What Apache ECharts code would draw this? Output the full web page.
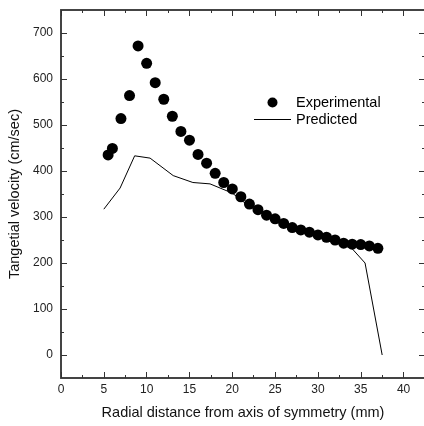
<!DOCTYPE html>
<html>
<head>
<meta charset="utf-8">
<script src="https://cdn.jsdelivr.net/npm/echarts@6/dist/echarts.min.js"></script>
<style>html,body{margin:0;padding:0;background:#fff;}#c{width:424px;height:426px;}</style>
</head>
<body>
<div id="c"></div>
<script>
var expX = [5.5, 6, 7, 8, 9, 10, 11, 12, 13, 14, 15, 16, 17, 18, 19, 20, 21, 22, 23, 24, 25, 26, 27, 28, 29, 30, 31, 32, 33, 34, 35, 36, 37];
var expY = [435, 449, 514, 564, 672, 634, 592, 556, 519, 486, 467, 436, 417, 395, 375, 361, 344, 328, 316, 304, 296, 286, 277, 272, 267, 261, 256, 250, 243, 241, 240, 237, 232];
var predX = [5, 6.9, 8.6, 10.4, 13.1, 15.4, 17.4, 20, 22, 25, 28, 31, 34, 35.5, 37.5];
var predY = [317, 363, 433, 428, 390, 375, 372, 352, 323, 292, 268, 252, 231, 200, 0];
var yMajor = [0, 100, 200, 300, 400, 500, 600, 700];
var yMinor = [50, 150, 250, 350, 450, 550, 650];

var font = 'Liberation Sans, Arial, sans-serif';
var axisLineStyle = {color: '#444', width: 2};
function pairs(xs, ys) { return xs.map(function (x, i) { return [x, ys[i]]; }); }

var chart = echarts.init(document.getElementById('c'));
chart.setOption({
  animation: false,
  textStyle: {fontFamily: font},
  grid: {left: 61, top: 10, right: -1, bottom: 48, containLabel: false, outerBoundsMode: 'none'},
  legend: {
    orient: 'vertical', left: 254, top: 95, padding: 0, itemWidth: 37, itemHeight: 10, itemGap: 2,
    textStyle: {fontSize: 14.5, lineHeight: 14, color: '#000', fontFamily: font},
    data: [
      {name: 'Experimental', icon: 'circle'},
      {name: 'Predicted', icon: 'path://M0,0L37,0L37,1L0,1Z'}
    ]
  },
  xAxis: [
    {type: 'value', position: 'bottom', min: 0, max: 42.5, interval: 5,
      axisLine: {onZero: false, lineStyle: axisLineStyle},
      axisTick: {inside: true, length: 6, lineStyle: {color: '#333'}},
      minorTick: {show: true, splitNumber: 2, length: 3, lineStyle: {color: '#333'}},
      splitLine: {show: false},
      axisLabel: {fontSize: 12, color: '#222', margin: 6, showMaxLabel: false, fontFamily: font},
      name: 'Radial distance from axis of symmetry (mm)', nameLocation: 'middle', nameGap: 27,
      nameTextStyle: {fontSize: 14.5, color: '#111', fontFamily: font}
    },
    {type: 'value', position: 'top', min: 0, max: 42.5, interval: 5,
      axisLine: {onZero: false, lineStyle: axisLineStyle},
      axisTick: {inside: true, length: 6, lineStyle: {color: '#333'}},
      minorTick: {show: true, splitNumber: 2, length: 3, lineStyle: {color: '#333'}},
      splitLine: {show: false}, axisLabel: {show: false}
    }
  ],
  yAxis: [
    {type: 'value', position: 'left', min: -50, max: 750,
      axisLine: {show: true, onZero: false, lineStyle: axisLineStyle},
      axisTick: {show: true, inside: true, length: 6, customValues: yMajor, lineStyle: {color: '#333'}},
      splitLine: {show: false},
      axisLabel: {fontSize: 12, color: '#222', margin: 8, customValues: yMajor, fontFamily: font},
      name: 'Tangetial velocity (cm/sec)', nameLocation: 'middle', nameGap: 35, nameRotate: 90,
      nameTextStyle: {fontSize: 14.5, color: '#111', fontFamily: font}
    },
    {type: 'value', position: 'left', min: -50, max: 750,
      axisLine: {show: false, onZero: false},
      axisTick: {show: true, inside: true, length: 3, customValues: yMinor, lineStyle: {color: '#333'}},
      splitLine: {show: false}, axisLabel: {show: false}
    },
    {type: 'value', position: 'right', min: -50, max: 750,
      axisLine: {show: false, onZero: false},
      axisTick: {show: true, inside: true, length: 6, customValues: yMajor, lineStyle: {color: '#333'}},
      splitLine: {show: false}, axisLabel: {show: false}
    },
    {type: 'value', position: 'right', min: -50, max: 750,
      axisLine: {show: false, onZero: false},
      axisTick: {show: true, inside: true, length: 3, customValues: yMinor, lineStyle: {color: '#333'}},
      splitLine: {show: false}, axisLabel: {show: false}
    }
  ],
  series: [
    {name: 'Experimental', type: 'scatter', xAxisIndex: 0, yAxisIndex: 0,
      symbol: 'circle', symbolSize: 11, itemStyle: {color: '#000', opacity: 1},
      data: pairs(expX, expY), z: 3},
    {name: 'Predicted', type: 'line', xAxisIndex: 0, yAxisIndex: 0,
      symbol: 'none', showSymbol: false, lineStyle: {color: '#000', width: 1}, itemStyle: {color: '#000'},
      data: pairs(predX, predY), z: 2}
  ]
});
</script>
</body>
</html>
